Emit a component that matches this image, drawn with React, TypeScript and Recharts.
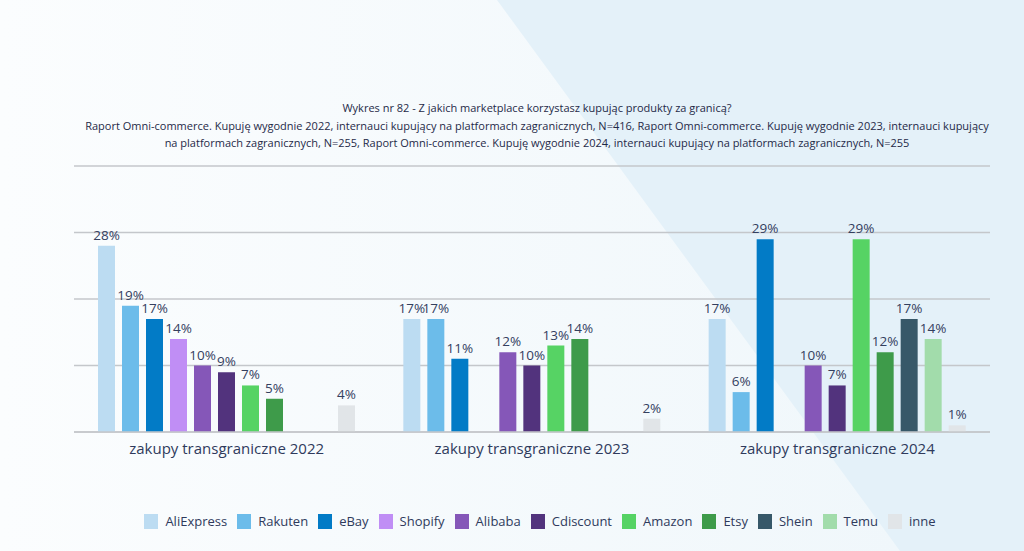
import { BarChart, Bar, XAxis, YAxis, CartesianGrid, LabelList, Legend } from "recharts";

// kategorie (lata)
const categories = [
  "zakupy transgraniczne 2022",
  "zakupy transgraniczne 2023",
  "zakupy transgraniczne 2024",
];

// wartości w % dla każdego marketplace (null = brak w danym roku)
const aliExpress = [28, 17, 17];
const rakuten = [19, 17, 6];
const ebay = [17, 11, 29];
const shopify = [14, null, null];
const alibaba = [10, 12, 10];
const cdiscount = [9, 10, 7];
const amazon = [7, 13, 29];
const etsy = [5, 14, 12];
const shein = [null, null, 17];
const temu = [null, null, 14];
const inne = [4, 2, 1];

const yTicks = [0, 10, 20, 30, 40];

const titleLines = [
  "Wykres nr 82 - Z jakich marketplace korzystasz kupując produkty za granicą?",
  "Raport Omni-commerce. Kupuję wygodnie 2022, internauci kupujący na platformach zagranicznych, N=416, Raport Omni-commerce. Kupuję wygodnie 2023, internauci kupujący",
  "na platformach zagranicznych, N=255, Raport Omni-commerce. Kupuję wygodnie 2024, internauci kupujący na platformach zagranicznych, N=255",
];

const series = [
  { key: "AliExpress", values: aliExpress, color: "#bcdcf2" },
  { key: "Rakuten", values: rakuten, color: "#6cbcea" },
  { key: "eBay", values: ebay, color: "#027bc6" },
  { key: "Shopify", values: shopify, color: "#c08ef5" },
  { key: "Alibaba", values: alibaba, color: "#8557b8" },
  { key: "Cdiscount", values: cdiscount, color: "#52337d" },
  { key: "Amazon", values: amazon, color: "#56d364" },
  { key: "Etsy", values: etsy, color: "#3e9b4a" },
  { key: "Shein", values: shein, color: "#375869" },
  { key: "Temu", values: temu, color: "#a2dcab" },
  { key: "inne", values: inne, color: "#e1e5e8" },
];

const data = categories.map((name, i) => {
  const row: any = { name };
  series.forEach((s) => {
    row[s.key] = s.values[i];
  });
  return row;
});

const FONT = "'Open Sans', 'Noto Sans', sans-serif";
const TEXT = "#2f3a5c";

// legenda w kolejności serii (recharts domyślnie sortuje alfabetycznie)
const renderLegend = () => (
  <div style={{ display: "flex", justifyContent: "center", alignItems: "center", fontFamily: FONT }}>
    {series.map((s) => (
      <div key={s.key} style={{ display: "flex", alignItems: "center", marginRight: 10 }}>
        <div style={{ width: 14, height: 15, background: s.color, marginRight: 7 }} />
        <span style={{ fontSize: 13, color: TEXT }}>{s.key}</span>
      </div>
    ))}
  </div>
);

export default function App() {
  return (
    <div
      style={{
        position: "absolute",
        top: 0,
        left: 0,
        width: 1024,
        height: 551,
        overflow: "hidden",
        background: "#e4f1f9",
      }}
    >
      {/* tło z ukośnym jaśniejszym polem */}
      <svg width={1024} height={551} style={{ position: "absolute", top: 0, left: 0 }}>
        <defs>
          <linearGradient id="bgL" x1="0" y1="0" x2="1" y2="0">
            <stop offset="0%" stopColor="#fbfdfe" />
            <stop offset="100%" stopColor="#f0f7fb" />
          </linearGradient>
        </defs>
        <polygon points="0,0 497,0 900,551 0,551" fill="url(#bgL)" />
      </svg>

      <div
        style={{
          position: "absolute",
          top: 99,
          left: 42,
          width: 990,
          textAlign: "center",
          fontFamily: FONT,
          fontSize: 11,
          lineHeight: "17.5px",
          color: "#1f2a48",
        }}
      >
        {titleLines.map((t) => (
          <div key={t}>{t}</div>
        ))}
      </div>

      <div style={{ position: "absolute", top: 0, left: 0 }}>
        <BarChart
          width={1024}
          height={551}
          data={data}
          margin={{ top: 166, right: 34, bottom: 89, left: 74 }}
          barSize={17}
          barGap={7}
        >
          <CartesianGrid vertical={false} stroke="#c4c7cb" strokeWidth={1.5} />
          <YAxis hide domain={[0, 40]} ticks={yTicks} />
          <XAxis
            dataKey="name"
            axisLine={{ stroke: "#c4c7cb", strokeWidth: 1.5 }}
            tickLine={false}
            height={30}
            tick={{ fill: TEXT, fontSize: 15, fontFamily: FONT }}
            dy={3}
          />
          <Legend
            layout="horizontal"
            verticalAlign="middle"
            align="center"
            content={renderLegend}
            wrapperStyle={{ top: 512, left: 33, width: 1024 }}
          />
          {series.map((s) => (
            <Bar key={s.key} dataKey={s.key} name={s.key} fill={s.color} isAnimationActive={false}>
              <LabelList
                dataKey={s.key}
                position="top"
                offset={6}
                formatter={(v: any) => (v == null ? "" : `${v}%`)}
                style={{ fill: "#34405f", fontSize: 13.5, fontFamily: FONT }}
              />
            </Bar>
          ))}
        </BarChart>
      </div>
    </div>
  );
}
